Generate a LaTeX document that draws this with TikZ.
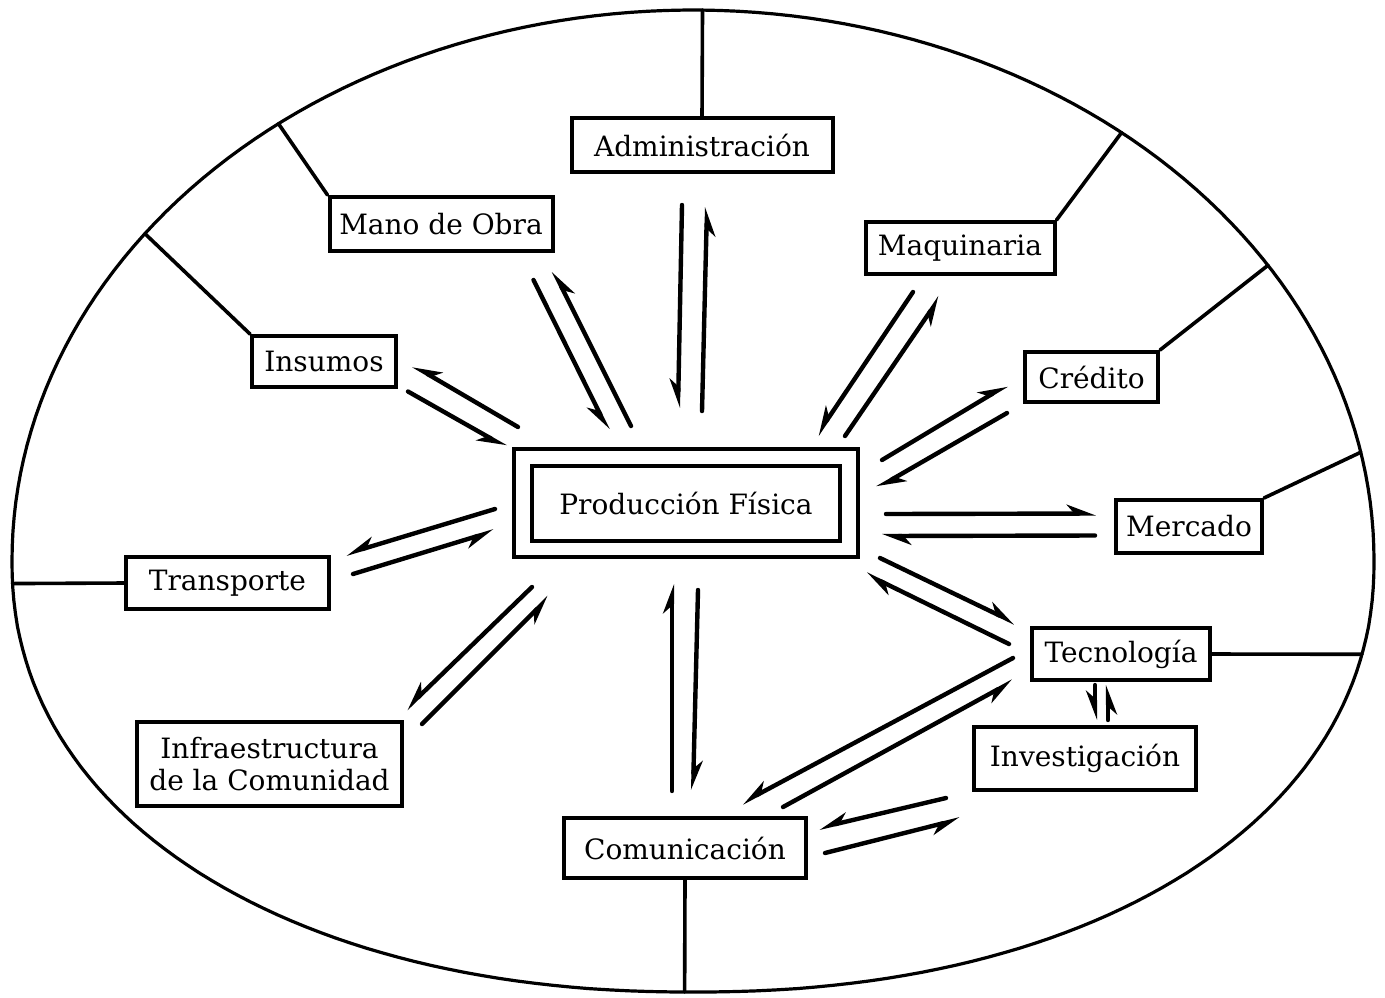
\documentclass[tikz,border=0pt]{standalone}
\usepackage{fontspec}
\setmainfont{DejaVu Serif}
\usetikzlibrary{arrows.meta,calc}
\begin{document}
\begin{tikzpicture}[x=0.5pt, y=-0.5pt, line cap=round,
    box/.style={draw, line width=2pt, inner sep=0pt, align=center,
      font=\fontsize{14}{16}\selectfont},
    spoke/.style={line width=1.8pt},
    hl/.style={line width=2.2pt, -{Stealth[harpoon, length=12pt, width=9pt]}},
    hr/.style={line width=2.2pt, -{Stealth[harpoon, swap, length=12pt, width=9pt]}}]
  \useasboundingbox (0,0) rectangle (1385,997);
  % outline: upper half ellipse, fuller lower half
  \def\bx#1{693+681*sign(cos(#1))*pow(abs(cos(#1))+0.00001,0.93)}
  \def\by#1{560+432*pow(abs(sin(#1))+0.00001,0.93)}
  \draw[line width=1.6pt]
    plot[domain=0:180, samples=120] ({693+681*cos(\x)}, {560-550*sin(\x)}) --
    plot[domain=180:360, samples=121] ({\bx{\x}}, {\by{\x}}) -- cycle;
  \coordinate (eAdm)  at ({693+681*cos(89.2)}, {560-550*sin(89.2)});
  \coordinate (eMaq)  at ({693+681*cos(51)},   {560-550*sin(51)});
  \coordinate (eCre)  at ({693+681*cos(32.4)}, {560-550*sin(32.4)});
  \coordinate (eMer)  at ({693+681*cos(11.3)}, {560-550*sin(11.3)});
  \coordinate (eMano) at ({693+681*cos(127.5)},{560-550*sin(127.5)});
  \coordinate (eIns)  at ({693+681*cos(143.6)},{560-550*sin(143.6)});
  \coordinate (eTra)  at ({\bx{182.5}}, {\by{182.5}});
  \coordinate (eCom)  at ({\bx{269.5}}, {\by{269.5}});
  \coordinate (eTec)  at ({\bx{348.8}}, {\by{348.8}});
  % boxes
  \node[box, minimum width=172pt, minimum height=54pt] (prodbox) at (686,503) {};
  \node[box, minimum width=154pt, minimum height=37.5pt] (prod) at (686,503.5) {Producción Física};
  \node[box, minimum width=130.5pt, minimum height=27pt] (adm) at (702,145) {Administración};
  \node[box, minimum width=111.5pt, minimum height=27pt] (mano) at (441,224) {Mano de Obra};
  \node[box, minimum width=94.5pt, minimum height=26pt] (maq) at (960,248) {Maquinaria};
  \node[box, minimum width=72pt, minimum height=25.5pt] (ins) at (324,361.5) {Insumos};
  \node[box, minimum width=66.5pt, minimum height=25pt] (cre) at (1091.5,377) {Crédito};
  \node[box, minimum width=73pt, minimum height=26.5pt] (mer) at (1189,526.5) {Mercado};
  \node[box, minimum width=101.5pt, minimum height=26pt] (tra) at (227.5,583) {Transporte};
  \node[box, minimum width=89pt, minimum height=26pt] (tec) at (1121,654) {Tecnología};
  \node[box, minimum width=111pt, minimum height=31.5pt] (inv) at (1085,758.5) {Investigación};
  \node[box, minimum width=132.5pt, minimum height=42pt] (inf) at (269.5,764) {Infraestructura\\de la Comunidad};
  \node[box, minimum width=121pt, minimum height=30pt] (com) at (685,848) {Comunicación};
  % spokes
  \draw[spoke] (adm.north) -- (eAdm);
  \draw[spoke] (mano.north west) -- (eMano);
  \draw[spoke] (ins.north west) -- (eIns);
  \draw[spoke] (tra.west) -- (eTra);
  \draw[spoke] (com.south) -- (eCom);
  \draw[spoke] (tec.east) -- (eTec);
  \draw[spoke] (mer.north east) -- (eMer);
  \draw[spoke] (cre.north east) -- (eCre);
  \draw[spoke] (maq.north east) -- (eMaq);
  % flows
  \draw[hr] ($(adm.south)+(-20,31)$) -- ($(prodbox.north)+(-8,-39)$);
  \draw[hr] ($(prodbox.north)+(16,-36)$) -- ($(adm.south)+(5,33)$);
  \draw[hr] ($(mano.south east)+(-21,27)$) -- ($(prodbox.north west)+(96,-17)$);
  \draw[hr] ($(prodbox.north west)+(119,-21)$) -- ($(mano.south east)+(-1,18)$);
  \draw[hr] ($(prodbox.north west)+(6,-20)$) -- ($(ins.east)+(15,4)$);
  \draw[hr] ($(ins.east)+(10,30)$) -- ($(prodbox.north west)+(-6,0)$);
  \draw[hr] ($(maq.south)+(-47,16)$) -- ($(prodbox.north east)+(-43,-12)$);
  \draw[hr] ($(prodbox.north east)+(-15,-11)$) -- ($(maq.south)+(-20,21)$);
  \draw[hl] ($(prodbox.north east)+(22,13)$) -- ($(cre.west)+(-16,8)$);
  \draw[hl] ($(cre.west)+(-16,36)$) -- ($(prodbox.north east)+(17,41)$);
  \draw[hl] ($(prodbox.east)+(26,11)$) -- ($(mer.west)+(-18,-13)$);
  \draw[hl] ($(mer.west)+(-19,9)$) -- ($(prodbox.east)+(22,33)$);
  \draw[hl] ($(prodbox.south east)+(20,-1)$) -- ($(tec.west)+(-15,-31)$);
  \draw[hl] ($(tec.west)+(-21,-10)$) -- ($(prodbox.south east)+(6,15)$);
  \draw[hl] ($(com.north)+(-13,-25)$) -- ($(prodbox.south)+(-14,25)$);
  \draw[hl] ($(prodbox.south)+(12,31)$) -- ($(com.north)+(8,-26)$);
  \draw[hr] ($(prodbox.south west)+(20,28)$) -- ($(inf.north east)+(2,-11)$);
  \draw[hr] ($(inf.north east)+(18,4)$) -- ($(prodbox.south west)+(37,38)$);
  \draw[hr] ($(prodbox.west)+(-17,6)$) -- ($(tra.east)+(15,-29)$);
  \draw[hr] ($(tra.east)+(22,-9)$) -- ($(prodbox.west)+(-18,28)$);
  \draw[hr] ($(tec.west)+(-17,4)$) -- ($(com.north)+(57,-13)$);
  \draw[hr] ($(com.north)+(98,-9)$) -- ($(tec.west)+(-17,27)$);
  \draw[hr] ($(inv.south west)+(-26,6)$) -- ($(com.east)+(11,-20)$);
  \draw[hr] ($(com.east)+(17,5)$) -- ($(inv.south west)+(-12,27)$);
  \draw[hr] ($(tec.south)+(-26,3)$) -- ($(inv.north)+(10,-5)$);
  \draw[hr] ($(inv.north)+(23,-5)$) -- ($(tec.south)+(-13,3)$);
\end{tikzpicture}
\end{document}
